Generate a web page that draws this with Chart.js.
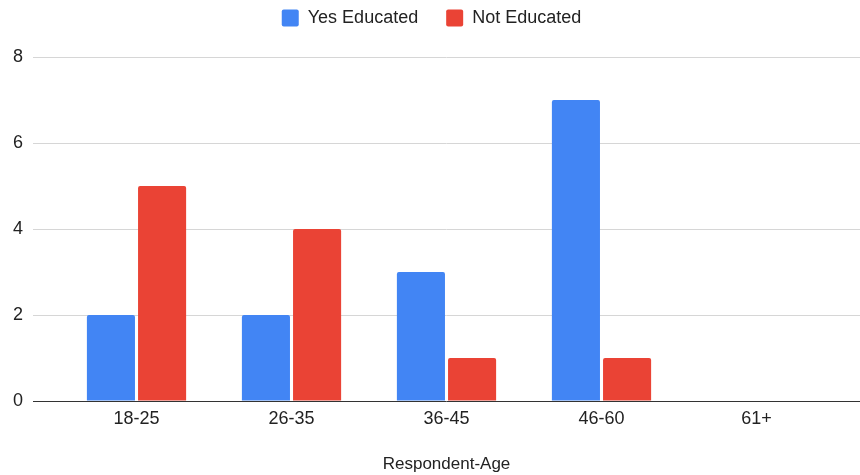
<!DOCTYPE html>
<html>
<head>
<meta charset="utf-8">
<script src="https://cdn.jsdelivr.net/npm/chart.js@4/dist/chart.umd.min.js"></script>
<style>
  html, body { margin: 0; padding: 0; background: #fff; overflow: hidden; }
  #wrap { width: 860px; height: 494px; margin-top: -19px; }
</style>
</head>
<body>
<div id="wrap"><canvas id="chart"></canvas></div>
<script>
var ageGroups = ['18-25', '26-35', '36-45', '46-60', '61+'];
var yesEducated = [2, 2, 3, 7, 0];
var notEducated = [5, 4, 1, 1, 0];
var yTicks = [0, 2, 4, 6, 8];

var gridColor = function(ctx) {
  return ctx.tick && ctx.tick.value === 0 ? '#333333' : '#d6d6d6';
};

// leave some more room under the legend
var legendSpace = {
  id: 'legendSpace',
  beforeInit: function(chart) {
    var fit = chart.legend.fit;
    chart.legend.fit = function() {
      fit.bind(chart.legend)();
      this.height += 20;
    };
  }
};

var ctx = document.getElementById('chart').getContext('2d');
var chart = new Chart(ctx, {
  type: 'bar',
  data: {
    labels: ageGroups,
    datasets: [{
      label: 'Yes Educated',
      data: yesEducated,
      backgroundColor: '#4285F4',
      borderRadius: 2,
      borderSkipped: 'bottom'
    }, {
      label: 'Not Educated',
      data: notEducated,
      backgroundColor: '#EA4335',
      borderRadius: 2,
      borderSkipped: 'bottom'
    }]
  },
  plugins: [legendSpace],
  options: {
    responsive: true,
    maintainAspectRatio: false,
    animation: false,
    categoryPercentage: 0.66,
    barPercentage: 0.94,
    layout: { padding: { left: 3, right: 0, top: 0, bottom: 0 } },
    plugins: {
      tooltip: { enabled: false },
      legend: {
        position: 'top',
        labels: {
          boxWidth: 17,
          boxHeight: 17,
          padding: 28,
          color: '#222',
          font: { family: 'Liberation Sans, Arial, sans-serif', size: 18 },
          useBorderRadius: true,
          borderRadius: 2
        }
      }
    },
    scales: {
      x: {
        grid: { display: false, drawTicks: false },
        border: { display: false },
        ticks: {
          padding: 7,
          color: '#222',
          font: { family: 'Liberation Sans, Arial, sans-serif', size: 18 }
        },
        title: {
          display: true,
          text: 'Respondent-Age',
          color: '#222',
          padding: { top: 18, bottom: 0 },
          font: { family: 'Liberation Sans, Arial, sans-serif', size: 17 }
        }
      },
      y: {
        min: yTicks[0],
        max: yTicks[yTicks.length - 1],
        grid: { color: gridColor, tickColor: gridColor, tickLength: 26, lineWidth: 1 },
        border: { display: false },
        ticks: {
          stepSize: 2,
          padding: 10,
          color: '#222',
          font: { family: 'Liberation Sans, Arial, sans-serif', size: 18 }
        }
      },
      y2: {
        position: 'right',
        min: yTicks[0],
        max: yTicks[yTicks.length - 1],
        grid: { drawOnChartArea: false, tickColor: gridColor, tickLength: 26, lineWidth: 1 },
        border: { display: false },
        ticks: { stepSize: 2, display: false }
      }
    }
  }
});
</script>
</body>
</html>
